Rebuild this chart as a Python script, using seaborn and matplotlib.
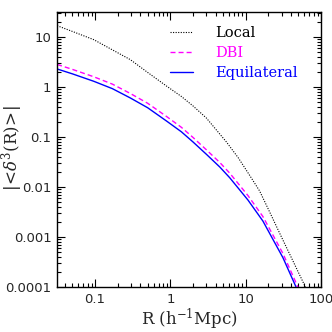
import numpy as np
import pandas as pd
import matplotlib
matplotlib.use("Agg")
import matplotlib.pyplot as plt
import matplotlib.ticker as mticker
from matplotlib.lines import Line2D
import seaborn as sns

# values (R in h^-1 Mpc, |<delta^3(R)>|)
r_local = [0.0314, 0.05, 0.0961, 0.17, 0.294, 0.5, 0.899, 1.4, 2.0, 3.0, 5.55, 8.0,
           11.9, 15.3, 20.8, 29.2, 40.0, 62.0]
v_local = [16.8, 12.9, 8.83, 5.52, 3.52, 1.95, 1.03, 0.646, 0.417, 0.240, 0.0794, 0.0380,
           0.0151, 0.00832, 0.00316, 0.00107, 0.000398, 0.0001]

r_dbi = [0.0314, 0.05, 0.0961, 0.17, 0.294, 0.5, 0.899, 1.4, 2.0, 3.0, 4.53, 6.14,
         10.7, 16.9, 31.2, 49.3]
v_dbi = [2.82, 2.25, 1.60, 1.14, 0.741, 0.472, 0.254, 0.156, 0.0977, 0.0556, 0.0309, 0.0189,
         0.00676, 0.00257, 0.000468, 0.0001]

r_eq = [0.0314, 0.05, 0.0961, 0.17, 0.294, 0.5, 0.899, 1.4, 2.0, 3.0, 4.53, 6.14,
        10.7, 16.9, 31.2, 46.9]
v_eq = [2.29, 1.83, 1.30, 0.925, 0.603, 0.384, 0.206, 0.127, 0.0794, 0.0452, 0.0251, 0.0153,
        0.0055, 0.00209, 0.000386, 0.0000977]

series = ["Local", "DBI", "Equilateral"]
colors = {"Local": "black", "DBI": "#ff00ff", "Equilateral": "#0000ff"}
xticks = [0.1, 1, 10, 100]
yticks = [1e-4, 1e-3, 1e-2, 1e-1, 1, 10]
ytick_labels = ["0.0001", "0.001", "0.01", "0.1", "1", "10"]

df = pd.concat([
    pd.DataFrame({"R": r_local, "val": v_local, "model": "Local"}),
    pd.DataFrame({"R": r_dbi, "val": v_dbi, "model": "DBI"}),
    pd.DataFrame({"R": r_eq, "val": v_eq, "model": "Equilateral"}),
])

sns.set_theme(style="ticks")
plt.rcParams["font.family"] = ["DejaVu Serif"]
plt.rcParams["mathtext.fontset"] = "dejavuserif"

fig = plt.figure(figsize=(3.32, 3.32), dpi=100)
ax = fig.add_axes([0.172, 0.1355, 0.795, 0.8285])

styles = {"Local": (0, (1, 1.3)), "DBI": (0, (3.6, 2.2)), "Equilateral": "-"}
widths = {"Local": 0.8, "DBI": 1.0, "Equilateral": 1.0}
for m in series:
    sns.lineplot(data=df[df["model"] == m], x="R", y="val", color=colors[m],
                 linestyle=styles[m], lw=widths[m], ax=ax, legend=False,
                 sort=False, estimator=None)

ax.set_xscale("log")
ax.set_yscale("log")
ax.set_xlim(0.0314, 100)
ax.set_ylim(1e-4, 31.6)

ax.xaxis.set_major_locator(mticker.FixedLocator(xticks))
ax.xaxis.set_major_formatter(mticker.FuncFormatter(lambda v, p: "%g" % v))
ax.yaxis.set_major_locator(mticker.FixedLocator(yticks))
ax.yaxis.set_major_formatter(mticker.FixedFormatter(ytick_labels))
ax.xaxis.set_minor_locator(mticker.LogLocator(base=10, subs=np.arange(2, 10)))
ax.yaxis.set_minor_locator(mticker.LogLocator(base=10, subs=np.arange(2, 10)))
ax.xaxis.set_minor_formatter(mticker.NullFormatter())
ax.yaxis.set_minor_formatter(mticker.NullFormatter())

ax.tick_params(which="both", direction="in", top=True, right=True, width=0.8, color="black")
ax.tick_params(which="major", length=5.5, labelsize=9.5, pad=4)
ax.tick_params(which="minor", length=3)
for lab in ax.get_xticklabels() + ax.get_yticklabels():
    lab.set_family(["DejaVu Sans"])
for s in ax.spines.values():
    s.set_linewidth(1.0)
    s.set_color("black")

ax.set_xlabel(r"R (h$^{-1}$Mpc)", fontsize=12, labelpad=1)
ax.set_ylabel(r"$|\!<\!\delta^3(\mathrm{R})\!>\!|$", fontsize=12)
ax.yaxis.set_label_coords(-0.12, 0.505)

handles = [Line2D([], [], color=colors[m], linestyle=styles[m], lw=widths[m]) for m in series]
leg = ax.legend(handles, series, loc="upper left", bbox_to_anchor=(0.428, 0.95),
                frameon=False, fontsize=10.5, handlelength=1.6, handletextpad=1.5,
                labelspacing=0.42, borderpad=0, borderaxespad=0)
for t, m in zip(leg.get_texts(), series):
    t.set_color(colors[m])

fig.savefig("out.png", dpi=100)
